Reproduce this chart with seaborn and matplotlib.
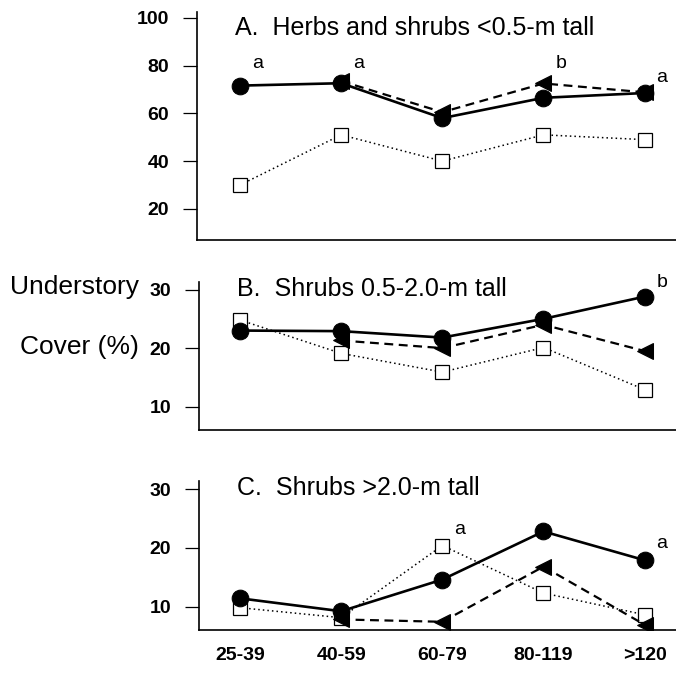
import pandas as pd
import numpy as np
import matplotlib
matplotlib.use("Agg")
import matplotlib.pyplot as plt
import seaborn as sns

# --- data ---
ages = ["25-39", "40-59", "60-79", "80-119", ">120"]

# panel A: herbs and shrubs <0.5 m
a_circle = [71.6, 72.6, 58.0, 66.5, 68.5]
a_triangle = [np.nan, 73.5, 60.5, 72.5, 68.8]
a_square = [30, 51, 40, 51, 49]

# panel B: shrubs 0.5-2.0 m
b_circle = [23.0, 22.9, 21.8, 25.0, 28.8]
b_triangle = [np.nan, 21.3, 20.0, 24.0, 19.5]
b_square = [24.8, 19.1, 15.9, 20.1, 12.9]

# panel C: shrubs >2.0 m
c_circle = [11.4, 9.2, 14.6, 22.8, 17.9]
c_triangle = [np.nan, 7.8, 7.4, 16.8, 6.9]
c_square = [9.8, 8.1, 20.4, 12.3, 8.6]

titles = ["A.  Herbs and shrubs <0.5-m tall",
          "B.  Shrubs 0.5-2.0-m tall",
          "C.  Shrubs >2.0-m tall"]

# significance letters: (panel, category index, y, letter)
letters = [(0, 0, 81, "a"), (0, 1, 81, "a"), (0, 3, 81, "b"), (0, 4, 75, "a"),
           (1, 4, 31.2, "b"),
           (2, 2, 23.2, "a"), (2, 4, 20.7, "a")]

sns.set_style("white")
plt.rcParams['font.family'] = ['Liberation Sans', 'DejaVu Sans']
plt.rcParams['text.color'] = 'black'
plt.rcParams['xtick.color'] = 'black'
plt.rcParams['ytick.color'] = 'black'

fig = plt.figure(figsize=(6.76, 6.75), dpi=100)
W, H = 676, 675

def px_axes(left, top, right, bottom):
    return fig.add_axes([left / W, 1 - bottom / H, (right - left) / W, (bottom - top) / H])

axes = [px_axes(197, 12, 676, 240),
        px_axes(199, 282, 676, 430),
        px_axes(199, 481, 676, 630)]

panels = [(a_circle, a_triangle, a_square),
          (b_circle, b_triangle, b_square),
          (c_circle, c_triangle, c_square)]
ylims = [(7, 102.4), (6.0, 31.3), (6.0, 31.4)]
yticks = [[20, 40, 60, 80, 100], [10, 20, 30], [10, 20, 30]]

for i, (ax, (circ, tri, sq)) in enumerate(zip(axes, panels)):
    df = pd.DataFrame({"age": ages, "circle": circ, "triangle": tri, "square": sq})
    sns.lineplot(data=df, x="age", y="circle", ax=ax, sort=False, color="black",
                 lw=1.9, marker="o", markersize=12, markeredgecolor="black", zorder=4)
    sns.lineplot(data=df.dropna(), x="age", y="triangle", ax=ax, sort=False, color="black",
                 lw=1.6, marker="<", markersize=12, markeredgecolor="black",
                 linestyle=(0, (4, 2.5)), zorder=3)
    sns.lineplot(data=df, x="age", y="square", ax=ax, sort=False, color="black",
                 lw=1.1, marker="s", markersize=10, markerfacecolor="white",
                 markeredgecolor="black", markeredgewidth=0.9,
                 linestyle=(0, (1, 2)), zorder=2)

    ax.set_ylim(*ylims[i])
    ax.set_xlim(-0.425 if i == 0 else -0.405, 4.31)
    ax.set_yticks(yticks[i])
    ax.set_xlabel("")
    ax.set_ylabel("")
    for s in ["top", "right"]:
        ax.spines[s].set_visible(False)
    for s in ["left", "bottom"]:
        ax.spines[s].set_color("black")
        ax.spines[s].set_linewidth(1.2)
    ax.tick_params(axis="y", direction="out", length=10, width=0.9, labelsize=14, pad=10,
                   left=True)
    ax.tick_params(axis="x", length=0, labelsize=14, pad=12)
    for lab in ax.get_yticklabels() + ax.get_xticklabels():
        lab.set_fontweight("bold")
    if i < 2:
        ax.set_xticklabels([])
    ax.text(0.08, 0.93 if i == 0 else 0.95, titles[i], transform=ax.transAxes,
            fontsize=18, va="center", ha="left")

for p, k, y, lab in letters:
    axes[p].text(k + 0.17, y, lab, fontsize=14, ha="center", va="center")

fig.text(10 / W, 1 - 287 / H, "Understory", fontsize=19, va="center", ha="left")
fig.text(20 / W, 1 - 347 / H, "Cover (%)", fontsize=19, va="center", ha="left")

fig.savefig("out.png", dpi=100)
